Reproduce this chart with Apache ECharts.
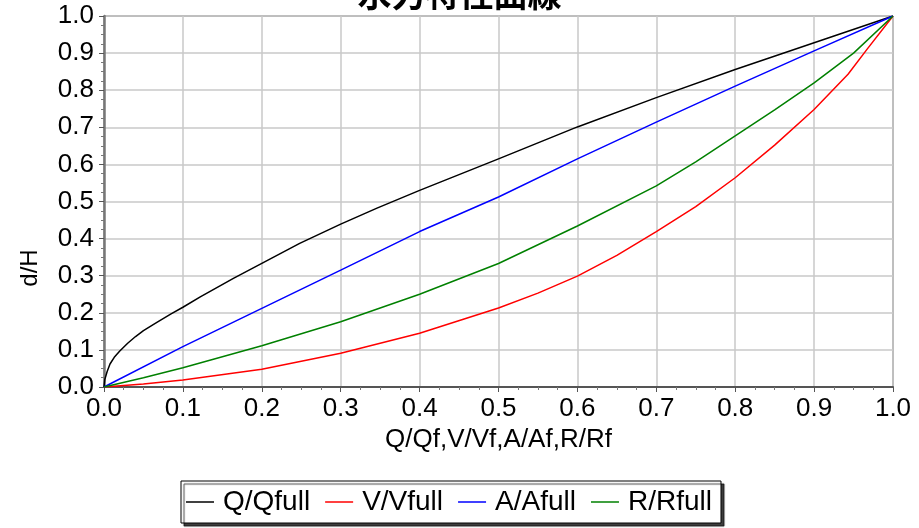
<!DOCTYPE html>
<html>
<head>
<meta charset="utf-8">
<style>
  html, body { margin: 0; padding: 0; background: #ffffff; }
  #chart { width: 919px; height: 528px; }
</style>
<script src="https://cdn.jsdelivr.net/npm/echarts@6/dist/echarts.min.js"></script>
</head>
<body>
<div id="chart"></div>
<script>
// ---- data (x = ratio to full, y = d/H) ----
const titleText = '水力特性曲線';
const seriesNames = ['Q/Qfull', 'V/Vfull', 'A/Afull', 'R/Rfull'];
const xAxisName = 'Q/Qf,V/Vf,A/Af,R/Rf';
const yAxisName = 'd/H';

const qRatio = [[0,0],[0.001,0.02],[0.004,0.042],[0.0076,0.062],[0.013,0.08],[0.02,0.097],[0.03,0.118],[0.04,0.136],
  [0.05,0.152],[0.067,0.174],[0.085,0.197],[0.1,0.215],[0.122,0.243],[0.164,0.293],[0.2,0.333],[0.248,0.387],
  [0.3,0.439],[0.346,0.482],[0.4,0.53],[0.5,0.615],[0.6,0.701],[0.7,0.78],[0.8,0.856],[0.9,0.928],[1,1]];
const vRatio = [[0,0],[0.05,0.008],[0.1,0.019],[0.2,0.048],[0.3,0.091],[0.4,0.145],[0.5,0.213],[0.55,0.253],
  [0.6,0.299],[0.65,0.355],[0.7,0.419],[0.75,0.486],[0.8,0.564],[0.85,0.652],[0.9,0.748],[0.943,0.843],[0.967,0.91],[1,1]];
const aRatio = [[0,0],[0.1,0.109],[0.2,0.212],[0.3,0.315],[0.4,0.419],[0.5,0.512],[0.6,0.615],
  [0.7,0.714],[0.8,0.811],[0.9,0.906],[1,1]];
const rRatio = [[0,0],[0.05,0.025],[0.1,0.052],[0.2,0.111],[0.3,0.176],[0.4,0.25],[0.5,0.333],
  [0.6,0.434],[0.7,0.542],[0.75,0.607],[0.8,0.677],[0.85,0.747],[0.9,0.82],[0.95,0.9],[1,1]];

const seriesData = [qRatio, vRatio, aRatio, rRatio];
const seriesColors = ['#000000', '#ff0000', '#0000ff', '#008000'];

const FONT = '"Liberation Sans", Arial, sans-serif';
const chart = echarts.init(document.getElementById('chart'), null, { renderer: 'canvas' });

chart.setOption({
  animation: false,
  backgroundColor: '#ffffff',
  title: {
    text: titleText,
    left: 'center',
    top: -28,
    textStyle: { fontFamily: '"Noto Sans CJK JP", "Noto Sans CJK SC", sans-serif', fontSize: 34, fontWeight: 'bold', color: '#000' }
  },
  grid: {
    left: 104, right: 26, top: 16, bottom: 141,
    show: true, borderColor: '#444444', borderWidth: 1, backgroundColor: '#ffffff'
  },
  legend: {
    data: seriesNames,
    left: 181, top: 481,
    padding: [7, 9, 7, 5],
    itemGap: 15,
    itemWidth: 28, itemHeight: 1.5,
    icon: 'rect',
    backgroundColor: '#ffffff',
    borderColor: '#000000', borderWidth: 1,
    shadowColor: 'rgba(0,0,0,0.75)', shadowBlur: 1, shadowOffsetX: 3, shadowOffsetY: 3,
    textStyle: { fontFamily: FONT, fontSize: 28, color: '#000', padding: [0, 0, 0, 4] }
  },
  graphic: [{
    type: 'text',
    x: 18, y: 268,
    rotation: Math.PI / 2,
    style: { text: yAxisName, font: '24px ' + FONT, fill: '#000', align: 'center', verticalAlign: 'top' }
  }],
  xAxis: {
    type: 'value', min: 0, max: 1, interval: 0.1,
    name: xAxisName, nameLocation: 'middle', nameGap: 40,
    nameTextStyle: { fontFamily: FONT, fontSize: 26, color: '#000' },
    axisLine: { show: true, onZero: false, lineStyle: { color: '#555555', width: 2 } },
    axisTick: { show: true, length: 5, lineStyle: { color: '#555555' } },
    minorTick: { show: true, splitNumber: 4, length: 3, lineStyle: { color: '#777777' } },
    axisLabel: { fontFamily: FONT, fontSize: 26, color: '#000', margin: 9, formatter: v => v.toFixed(1) },
    splitLine: { show: true, lineStyle: { color: '#c8c8c8', width: 1.5 } }
  },
  yAxis: {
    type: 'value', min: 0, max: 1, interval: 0.1,
    axisLine: { show: true, onZero: false, lineStyle: { color: '#777777', width: 2.5 } },
    axisTick: { show: true, length: 5, lineStyle: { color: '#555555' } },
    minorTick: { show: true, splitNumber: 4, length: 3, lineStyle: { color: '#777777' } },
    axisLabel: { fontFamily: FONT, fontSize: 26, color: '#000', margin: 10, formatter: v => v.toFixed(1) },
    splitLine: { show: true, lineStyle: { color: '#c8c8c8', width: 1.5 } }
  },
  series: seriesNames.map((name, i) => ({
    name: name,
    type: 'line',
    data: seriesData[i],
    showSymbol: false,
    smooth: false,
    color: seriesColors[i],
    lineStyle: { color: seriesColors[i], width: 1.5 }
  }))
});
</script>
</body>
</html>
